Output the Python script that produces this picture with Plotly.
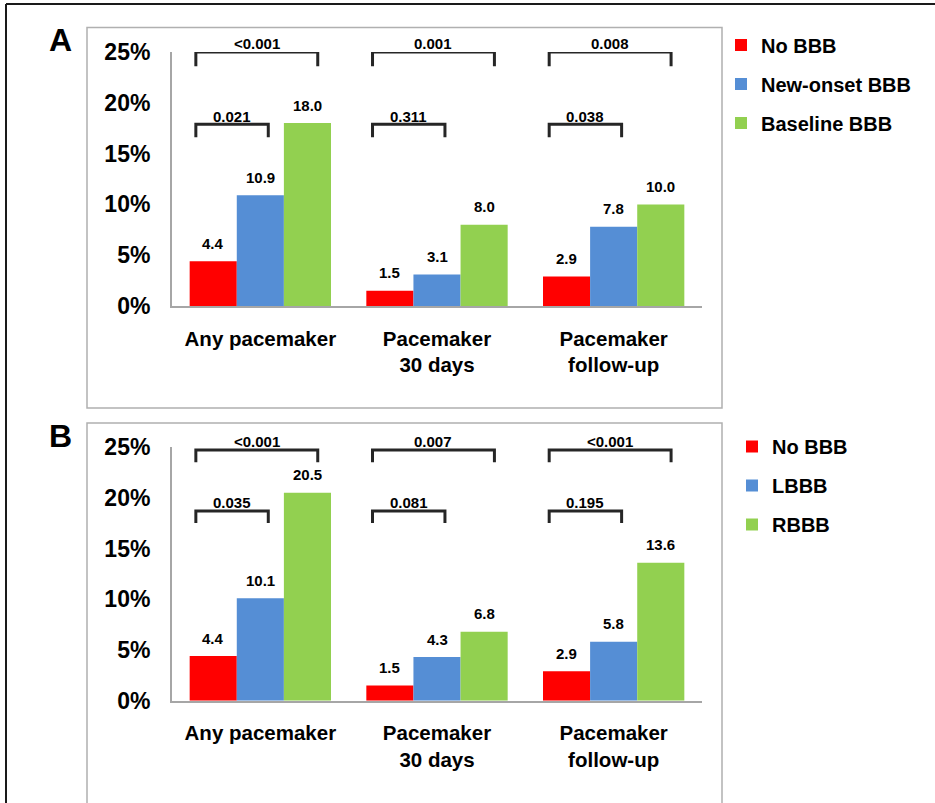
import plotly.graph_objects as go

W, H = 935, 803

# ---------------- data ----------------
categories = ["Any pacemaker", "Pacemaker<br>30 days", "Pacemaker<br>follow-up"]

a_series_names = ["No BBB", "New-onset BBB", "Baseline BBB"]
a_no_bbb = [4.4, 1.5, 2.9]
a_new_onset = [10.9, 3.1, 7.8]
a_baseline = [18.0, 8.0, 10.0]
a_p_outer = ["<0.001", "0.001", "0.008"]
a_p_inner = ["0.021", "0.311", "0.038"]

b_series_names = ["No BBB", "LBBB", "RBBB"]
b_no_bbb = [4.4, 1.5, 2.9]
b_lbbb = [10.1, 4.3, 5.8]
b_rbbb = [20.5, 6.8, 13.6]
b_p_outer = ["<0.001", "0.007", "<0.001"]
b_p_inner = ["0.035", "0.081", "0.195"]

y_tickvals = [0, 5, 10, 15, 20, 25]
y_ticktext = ["0%", "5%", "10%", "15%", "20%", "25%"]

# ---------------- styles ----------------
COLORS = ["#FF0000", "#558ED5", "#92D050"]
FONT = "Liberation Sans, Arial, sans-serif"
AXIS_GRAY = "#a6a6a6"
BRACKET_COLOR = "#262626"
BAR_SLOT = 0.8 / 3  # width of one bar in category units (bargap 0.2)


def px_x(p):
    return p / W


def px_y(p):
    return 1 - p / H


x_domain = [px_x(172), px_x(702)]

fig = go.Figure()

panels = [
    dict(xa="x", ya="y", legend="legend", names=a_series_names,
         series=[a_no_bbb, a_new_onset, a_baseline],
         p_outer=a_p_outer, p_inner=a_p_inner,
         outer_y=(25.0, 23.6), inner_y=(17.9, 16.6)),
    dict(xa="x2", ya="y2", legend="legend2", names=b_series_names,
         series=[b_no_bbb, b_lbbb, b_rbbb],
         p_outer=b_p_outer, p_inner=b_p_inner,
         outer_y=(24.7, 23.5), inner_y=(18.7, 17.5)),
]

BR_LEFT, BR_RIGHT, BR_MID = -0.365, 0.325, 0.045

annotations = []
for pi, pn in enumerate(panels):
    xs = list(range(len(categories)))
    for si, (name, vals) in enumerate(zip(pn["names"], pn["series"])):
        fig.add_trace(go.Bar(
            x=xs, y=vals, name=name, marker=dict(color=COLORS[si], line=dict(width=0)),
            xaxis=pn["xa"], yaxis=pn["ya"], legend=pn["legend"],
            legendgroup=f"p{pi}s{si}", hoverinfo="skip",
        ))
        for xi, v in zip(xs, vals):
            annotations.append(dict(
                x=xi + (si - 1) * BAR_SLOT, y=v, xref=pn["xa"], yref=pn["ya"],
                text=f"{v:.1f}", showarrow=False, yanchor="middle", yshift=18,
                font=dict(family=FONT, size=15, color="#000", weight="bold"),
            ))
    # brackets
    bx, by = [], []
    oy_top, oy_leg = pn["outer_y"]
    iy_top, iy_leg = pn["inner_y"]
    for xi in xs:
        l, r, m = xi + BR_LEFT, xi + BR_RIGHT, xi + BR_MID
        bx += [l, l, r, r, None, l, l, m, m, None]
        by += [oy_leg, oy_top, oy_top, oy_leg, None, iy_leg, iy_top, iy_top, iy_leg, None]
        annotations.append(dict(
            x=(l + r) / 2, y=oy_top, xref=pn["xa"], yref=pn["ya"], text=pn["p_outer"][xi],
            showarrow=False, yanchor="middle", yshift=9,
            font=dict(family=FONT, size=15, color="#000", weight="bold")))
        annotations.append(dict(
            x=(l + m) / 2, y=iy_top, xref=pn["xa"], yref=pn["ya"], text=pn["p_inner"][xi],
            showarrow=False, yanchor="middle", yshift=8,
            font=dict(family=FONT, size=15, color="#000", weight="bold")))
    fig.add_trace(go.Scatter(
        x=bx, y=by, mode="lines", line=dict(color=BRACKET_COLOR, width=3),
        xaxis=pn["xa"], yaxis=pn["ya"], showlegend=False, cliponaxis=False,
        hoverinfo="skip",
    ))

# panel letters
annotations.append(dict(x=px_x(60), y=px_y(40), xref="paper", yref="paper", text="A",
                        showarrow=False, xanchor="center", yanchor="middle",
                        font=dict(family=FONT, size=32, color="#000", weight="bold")))
annotations.append(dict(x=px_x(60), y=px_y(436), xref="paper", yref="paper", text="B",
                        showarrow=False, xanchor="center", yanchor="middle",
                        font=dict(family=FONT, size=32, color="#000", weight="bold")))

shapes = [
    # outer frame (top and left)
    dict(type="line", xref="paper", yref="paper", x0=px_x(6), x1=px_x(940),
         y0=px_y(4), y1=px_y(4), line=dict(color="#1a1a1a", width=2)),
    dict(type="line", xref="paper", yref="paper", x0=px_x(6), x1=px_x(6),
         y0=px_y(4), y1=px_y(810), line=dict(color="#1a1a1a", width=2)),
    # panel boxes
    dict(type="rect", xref="paper", yref="paper", x0=px_x(87), x1=px_x(722),
         y0=px_y(27.5), y1=px_y(408), line=dict(color="#b0b0b0", width=1.5)),
    dict(type="rect", xref="paper", yref="paper", x0=px_x(87), x1=px_x(722),
         y0=px_y(423), y1=px_y(820), line=dict(color="#b0b0b0", width=1.5)),
]

xaxis_common = dict(
    domain=x_domain, range=[-0.5, 2.5], tickvals=[0, 1, 2], ticktext=categories,
    showgrid=False, zeroline=False, showline=True, linecolor=AXIS_GRAY, linewidth=2,
    ticks="", ticklabelstandoff=13, automargin=False,
    tickfont=dict(family=FONT, size=20.5, color="#000", weight="bold"),
    fixedrange=True,
)
yaxis_common = dict(
    range=[0, 25], tickvals=y_tickvals, ticktext=y_ticktext,
    showgrid=False, zeroline=False, showline=True, linecolor=AXIS_GRAY, linewidth=2,
    ticks="", ticklabelstandoff=15, automargin=False,
    tickfont=dict(family=FONT, size=23, color="#000", weight="bold"),
    fixedrange=True,
)

legend_common = dict(
    font=dict(family=FONT, size=20, color="#000", weight="bold"),
    bgcolor="rgba(0,0,0,0)", borderwidth=0, traceorder="grouped",
    tracegroupgap=10, xanchor="left", yanchor="top",
)

fig.update_layout(
    width=W, height=H, margin=dict(l=0, r=0, t=0, b=0, autoexpand=False),
    paper_bgcolor="white", plot_bgcolor="white",
    barmode="group", bargap=0.2, bargroupgap=0,
    xaxis=dict(**xaxis_common, anchor="y"),
    yaxis=dict(**yaxis_common, domain=[px_y(306), px_y(52)], anchor="x"),
    xaxis2=dict(**xaxis_common, anchor="y2"),
    yaxis2=dict(**yaxis_common, domain=[px_y(700.7), px_y(447)], anchor="x2"),
    legend=dict(**legend_common, x=px_x(721), y=px_y(25.5)),
    legend2=dict(**legend_common, x=px_x(732), y=px_y(427)),
    annotations=annotations, shapes=shapes, showlegend=True,
)

fig.write_html("out.html", config={"displayModeBar": False},
               post_script="document.body.style.margin='0';")
